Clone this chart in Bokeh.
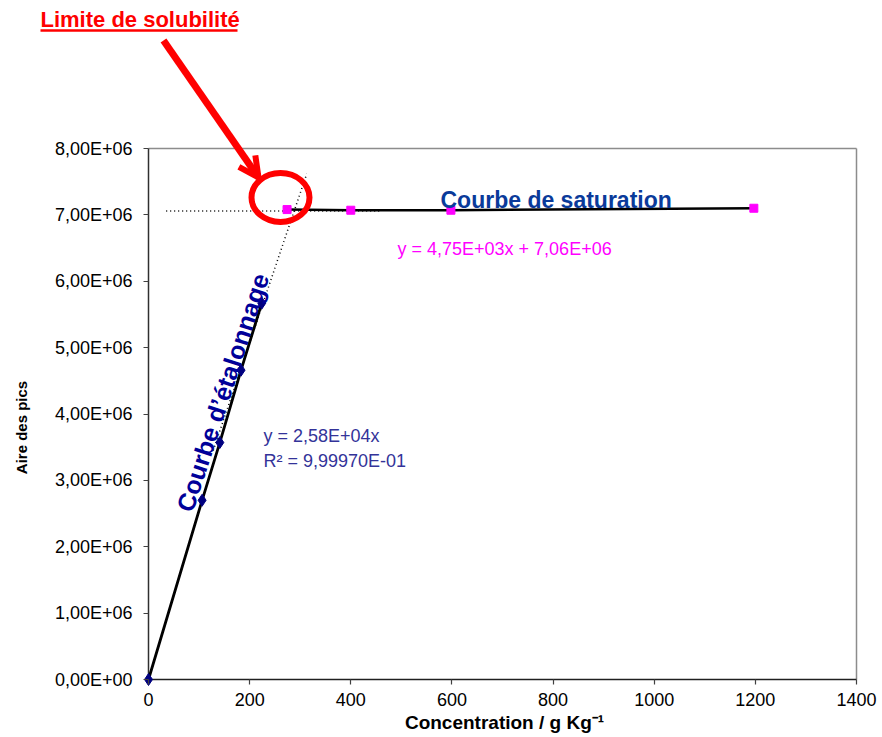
from bokeh.plotting import figure
from bokeh.models import Range1d, Arrow, OpenHead, Label, CustomJSTickFormatter, FixedTicker
from bokeh.embed import file_html
from bokeh.resources import INLINE

# ---- data ----
calib_x = [0, 106, 141, 183, 224]
calib_y = [0, 2.70e6, 3.57e6, 4.66e6, 5.67e6]

sat_x = [274, 400, 598, 1197]
sat_y = [7.08e6, 7.07e6, 7.07e6, 7.10e6]

trend_cal_x = [128, 313]
trend_cal_y = [3.45e6, 7.62e6]

trend_sat_x = [35, 460]
trend_sat_y = [7.06e6, 7.06e6]

x_ticks = [0, 200, 400, 600, 800, 1000, 1200, 1400]
y_ticks = [0, 1e6, 2e6, 3e6, 4e6, 5e6, 6e6, 7e6, 8e6]

FONT = "Liberation Sans"

# ---- layout: the frame covers the whole canvas, axes are pinned at 0 ----
W, H = 882, 737
FX0, FX1 = 148, 856      # canvas px of x = 0 and x = 1400
FY0, FY1 = 679, 148      # canvas px of y = 0 and y = 8e6
sx = (FX1 - FX0) / x_ticks[-1]
sy = (FY0 - FY1) / y_ticks[-1]


def px2x(px):
    return (px - FX0) / sx


def py2y(py):
    return (FY0 - py) / sy


p = figure(width=W, height=H, output_backend="svg", toolbar_location=None,
           x_range=Range1d(px2x(0), px2x(W)), y_range=Range1d(py2y(H), py2y(0)),
           min_border_left=0, min_border_right=0, min_border_top=0, min_border_bottom=0)

p.grid.visible = False
p.outline_line_color = None
p.background_fill_color = "white"
p.border_fill_color = "white"

# axes pinned at data zero
p.xaxis.ticker = FixedTicker(ticks=x_ticks)
p.yaxis.ticker = FixedTicker(ticks=y_ticks)
p.xaxis.fixed_location = 0
p.yaxis.fixed_location = 0
p.yaxis.formatter = CustomJSTickFormatter(code="""
    const m = tick / 1e6;
    const s = m.toFixed(2).replace('.', ',');
    return s + (tick == 0 ? 'E+00' : 'E+06');
""")
for ax in (p.xaxis, p.yaxis):
    ax.major_label_text_font = FONT
    ax.major_label_text_font_size = "18px"
    ax.major_label_text_color = "black"
    ax.major_tick_out = 5
    ax.major_tick_in = 0
    ax.minor_tick_out = 0
    ax.minor_tick_in = 0
    ax.major_tick_line_color = "#404040"
    ax.major_tick_line_width = 1.2
    ax.axis_line_color = None
p.xaxis.major_label_standoff = 8
p.yaxis.major_label_standoff = 11

# plot-area box: grey top/right, dark left/bottom
p.line([x_ticks[0], x_ticks[-1]], [y_ticks[-1], y_ticks[-1]], line_color="#8c8c8c", line_width=1.5)
p.line([x_ticks[-1], x_ticks[-1]], [y_ticks[0], y_ticks[-1]], line_color="#8c8c8c", line_width=1.5)
p.line([x_ticks[0], x_ticks[0]], [y_ticks[0], y_ticks[-1]], line_color="#303030", line_width=1.5)
p.line([x_ticks[0], x_ticks[-1]], [y_ticks[0], y_ticks[0]], line_color="#202020", line_width=1.5)

# axis titles
p.add_layout(Label(x=px2x(504), y=py2y(722), text="Concentration / g Kg\u207b\u00b9", text_font=FONT,
                   text_font_style="bold", text_font_size="19px", text_color="black",
                   text_align="center", text_baseline="middle"))
p.add_layout(Label(x=px2x(21), y=py2y(427), text="Aire des pics", text_font=FONT,
                   text_font_style="bold", text_font_size="15px", text_color="black",
                   angle=90, angle_units="deg", text_align="center", text_baseline="middle"))

# dotted trend lines
p.line(trend_cal_x, trend_cal_y, line_color="black", line_width=1.5, line_dash="1 3")
p.line(trend_sat_x, trend_sat_y, line_color="black", line_width=1.5, line_dash="1 3")

# solid series lines
p.line(calib_x, calib_y, line_color="black", line_width=2.8)
p.line(sat_x, sat_y, line_color="black", line_width=2.5)

# markers
p.scatter(calib_x, calib_y, marker="diamond", size=12, fill_color="#000080", line_color="#000080")
p.scatter(sat_x, sat_y, marker="square", size=8, fill_color="#ff00ff", line_color="#ff00ff")

# red circle (solubility limit)
p.ellipse(x=[px2x(280)], y=[py2y(197)], width=58, height=49, width_units="screen", height_units="screen",
          fill_alpha=0, line_color="#ff0000", line_width=6)

# texts in the plot
p.add_layout(Label(x=px2x(440), y=py2y(199), text="Courbe de saturation", text_font=FONT,
                   text_font_style="bold", text_font_size="23px", text_color="#0a3a9a",
                   text_align="left", text_baseline="middle"))
p.add_layout(Label(x=px2x(222), y=py2y(392), text="Courbe d\u2019\u00e9talonnage", text_font=FONT,
                   text_font_style="bold", text_font_size="25px", text_color="#000099",
                   angle=72, angle_units="deg", text_align="center", text_baseline="middle"))
p.add_layout(Label(x=px2x(263), y=py2y(435), text="y = 2,58E+04x", text_font=FONT,
                   text_font_size="18px", text_color="#333399",
                   text_align="left", text_baseline="middle"))
p.add_layout(Label(x=px2x(263), y=py2y(460), text="R\u00b2 = 9,99970E-01", text_font=FONT,
                   text_font_size="18px", text_color="#333399",
                   text_align="left", text_baseline="middle"))
p.add_layout(Label(x=px2x(397), y=py2y(248), text="y = 4,75E+03x + 7,06E+06", text_font=FONT,
                   text_font_size="18px", text_color="#ff00ff",
                   text_align="left", text_baseline="middle"))

# title annotation with underline and arrow
p.add_layout(Label(x=px2x(40), y=py2y(19), text="Limite de solubilit\u00e9", text_font=FONT,
                   text_font_style="bold", text_font_size="22px", text_color="#ff0000",
                   text_align="left", text_baseline="middle"))
p.line([px2x(40), px2x(237)], [py2y(30), py2y(30)], line_color="#ff0000", line_width=2.5)
p.add_layout(Arrow(x_start=px2x(163), y_start=py2y(40), x_end=px2x(258), y_end=py2y(177),
                   line_color="#ff0000", line_width=7,
                   end=OpenHead(size=20, line_color="#ff0000", line_width=6)))

open("out.html", "w").write(file_html(p, INLINE))
